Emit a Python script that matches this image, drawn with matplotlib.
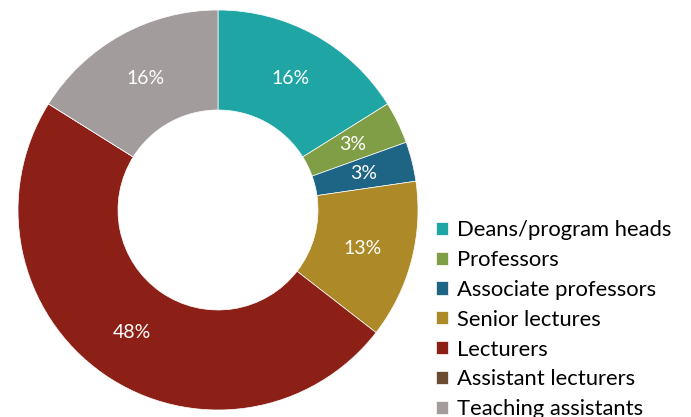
import matplotlib
matplotlib.use("Agg")
import matplotlib.pyplot as plt

categories = ["Deans/program heads", "Professors", "Associate professors",
              "Senior lectures", "Lecturers", "Assistant lecturers", "Teaching assistants"]
values = [16.1, 3.4, 3.2, 12.8, 48.4, 0.0, 16.1]
colors = ["#1fa5a3", "#7f9e46", "#1e6484", "#ad8927", "#8c1f16", "#6b4c33", "#a39c9c"]

plt.rcParams['font.family'] = ['Lato', 'DejaVu Sans']

fig = plt.figure(figsize=(6.91, 4.17), dpi=100)
W, H = 691, 417
ax = fig.add_axes([18 / W, 7 / H, 400 / W, 400 / H])

def fmt(p):
    return f"{p:.0f}%" if p > 0.5 else ""

wedges, texts, autotexts = ax.pie(
    values, colors=colors, startangle=90, counterclock=False,
    radius=1.0, autopct=fmt, pctdistance=0.75,
    wedgeprops=dict(width=0.5, edgecolor="white", linewidth=0.5),
    textprops=dict(color="white", fontsize=14))
ax.set_xlim(-1, 1)
ax.set_ylim(-1, 1)
ax.set_aspect("equal")
ax.axis("off")

leg = fig.legend(wedges, categories, loc="upper left",
                 bbox_to_anchor=(436 / W, 1 - 220 / H),
                 frameon=False, fontsize=15.8, handlelength=0.55, handleheight=0.55,
                 handletextpad=0.4, labelspacing=0.45, borderaxespad=0, borderpad=0)

fig.savefig("out.png", dpi=100)
